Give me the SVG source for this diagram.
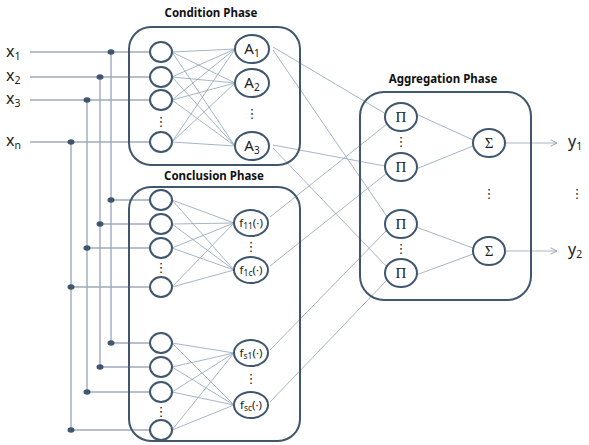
<svg xmlns="http://www.w3.org/2000/svg" width="589" height="445" viewBox="0 0 589 445">
<defs>
<style>
.box{fill:none;stroke:#3f566e;stroke-width:2}
.nd{fill:#fff;stroke:#3f566e;stroke-width:2}
.wire{stroke:#9eabb9;stroke-width:1.4;fill:none}
.mesh{stroke:#8fa2b7;stroke-width:0.8;fill:none}
.dot{fill:#3f566e}
.title{font-family:"Noto Sans",sans-serif;font-weight:bold;font-size:11.5px;fill:#111;text-anchor:middle}
.lbl{font-family:"Noto Sans",sans-serif;font-size:16px;fill:#222}
.nl{font-family:"Noto Sans",sans-serif;font-size:15px;fill:#222;text-anchor:middle}
.fl{font-family:"Noto Sans",sans-serif;font-size:11.5px;fill:#222;text-anchor:middle}
.gr{font-family:"Liberation Serif",serif;font-size:15px;fill:#222;text-anchor:middle}
.vd{font-family:"DejaVu Sans",sans-serif;font-size:13px;fill:#222;text-anchor:middle}
</style>
<marker id="ar" viewBox="0 0 10 10" refX="9" refY="5" markerWidth="8" markerHeight="8" orient="auto" markerUnits="userSpaceOnUse">
<path d="M1,1 L9,5 L1,9" fill="none" stroke="#8fa2b7" stroke-width="1.2"/>
</marker>
</defs>

<g id="connectors">
<path class="wire" d="M30,52 H150 M30,77 H150 M30,100 H150 M30,142 H150"/>
<path class="wire" d="M111,52 V343 M100,77 V367 M87,100 V392 M71,142 V430"/>
<path class="wire" d="M111,200 H150 M100,224 H150 M87,248 H150 M71,287 H150 M111,343 H150 M100,367 H150 M87,392 H150 M71,430 H150"/>
<path class="mesh" d="M172,52 L235,49 M172,52 L235,83 M172,52 L235,146 M172,77 L235,49 M172,77 L235,83 M172,77 L235,146 M172,100 L235,49 M172,100 L235,83 M172,100 L235,146 M172,142 L235,49 M172,142 L235,83 M172,142 L235,146"/>
<path class="mesh" d="M172,200 L234,223 M172,200 L234,270 M172,224 L234,223 M172,224 L234,270 M172,248 L234,223 M172,248 L234,270 M172,287 L234,223 M172,287 L234,270"/>
<path class="mesh" d="M172,343 L234,353 M172,343 L234,405 M172,367 L234,353 M172,367 L234,405 M172,392 L234,353 M172,392 L234,405 M172,430 L234,353 M172,430 L234,405"/>
<path class="mesh" d="M273,47 L386,114 M273,50 L388,218 M273,145 L385,166 M273,148 L388,268"/>
<path class="mesh" d="M270,217 L387,124 M270,266 L387,173 M270,350 L387,230 M270,402 L387,280"/>
<path class="mesh" d="M416,114 L473,140 M416,169 L473,146 M416,227 L473,248 M416,275 L473,254"/>
<path class="mesh" d="M505,143 H557" marker-end="url(#ar)"/>
<path class="mesh" d="M505,251 H557" marker-end="url(#ar)"/>
<g class="dot">
<ellipse cx="111" cy="52" rx="3.5" ry="2.8"/><ellipse cx="100" cy="77" rx="3.5" ry="2.8"/><ellipse cx="87" cy="100" rx="3.5" ry="2.8"/><ellipse cx="71" cy="142" rx="3.5" ry="2.8"/>
<ellipse cx="111" cy="200" rx="3.5" ry="2.8"/><ellipse cx="100" cy="224" rx="3.5" ry="2.8"/><ellipse cx="87" cy="248" rx="3.5" ry="2.8"/><ellipse cx="71" cy="287" rx="3.5" ry="2.8"/>
<ellipse cx="111" cy="343" rx="3.5" ry="2.8"/><ellipse cx="100" cy="367" rx="3.5" ry="2.8"/><ellipse cx="87" cy="392" rx="3.5" ry="2.8"/><ellipse cx="71" cy="430" rx="3.5" ry="2.8"/>
</g>
</g>

<g id="inputs">
<text class="lbl" x="6" y="57">x<tspan font-size="10.5" dy="3">1</tspan></text>
<text class="lbl" x="6" y="81">x<tspan font-size="10.5" dy="3">2</tspan></text>
<text class="lbl" x="6" y="104">x<tspan font-size="10.5" dy="3">3</tspan></text>
<text class="lbl" x="6" y="146">x<tspan font-size="10.5" dy="3">n</tspan></text>
</g>

<g id="condition-phase">
<text class="title" x="211" y="17">Condition Phase</text>
<rect class="box" x="129" y="27" width="171" height="138" rx="22"/>
<ellipse class="nd" cx="161" cy="52" rx="11" ry="10"/>
<ellipse class="nd" cx="161" cy="77" rx="11" ry="10"/>
<ellipse class="nd" cx="161" cy="100" rx="11" ry="10"/>
<ellipse class="nd" cx="161" cy="142" rx="11" ry="10"/>
<text class="vd" x="161" y="126">⋮</text>
<g id="A1"><ellipse class="nd" cx="252" cy="49" rx="17" ry="14"/><text class="nl" x="252" y="54">A<tspan font-size="10" dy="3">1</tspan></text></g>
<g id="A2"><ellipse class="nd" cx="252" cy="83" rx="17" ry="14"/><text class="nl" x="252" y="88">A<tspan font-size="10" dy="3">2</tspan></text></g>
<text class="vd" x="252" y="118">⋮</text>
<g id="A3"><ellipse class="nd" cx="252" cy="146" rx="17" ry="14"/><text class="nl" x="252" y="151">A<tspan font-size="10" dy="3">3</tspan></text></g>
</g>

<g id="conclusion-phase">
<text class="title" x="214" y="180">Conclusion Phase</text>
<rect class="box" x="129" y="187" width="171" height="254" rx="22"/>
<ellipse class="nd" cx="161" cy="200" rx="11" ry="10"/>
<ellipse class="nd" cx="161" cy="224" rx="11" ry="10"/>
<ellipse class="nd" cx="161" cy="248" rx="11" ry="10"/>
<ellipse class="nd" cx="161" cy="287" rx="11" ry="10"/>
<text class="vd" x="161" y="272">⋮</text>
<ellipse class="nd" cx="161" cy="343" rx="11" ry="10"/>
<ellipse class="nd" cx="161" cy="367" rx="11" ry="10"/>
<ellipse class="nd" cx="161" cy="392" rx="11" ry="10"/>
<ellipse class="nd" cx="161" cy="430" rx="11" ry="10"/>
<text class="vd" x="161" y="416">⋮</text>
<g id="f11"><ellipse class="nd" cx="251" cy="223" rx="17" ry="13"/><text class="fl" x="251" y="227">f<tspan font-size="8.5" dy="2">11</tspan><tspan dy="-2">(·)</tspan></text></g>
<text class="vd" x="251" y="251">⋮</text>
<g id="f1c"><ellipse class="nd" cx="251" cy="270" rx="17" ry="13"/><text class="fl" x="251" y="274">f<tspan font-size="8.5" dy="2">1c</tspan><tspan dy="-2">(·)</tspan></text></g>
<g id="fs1"><ellipse class="nd" cx="251" cy="353" rx="17" ry="13"/><text class="fl" x="251" y="357">f<tspan font-size="8.5" dy="2">s1</tspan><tspan dy="-2">(·)</tspan></text></g>
<text class="vd" x="251" y="383">⋮</text>
<g id="fsc"><ellipse class="nd" cx="251" cy="405" rx="17" ry="13"/><text class="fl" x="251" y="409">f<tspan font-size="8.5" dy="2">sc</tspan><tspan dy="-2">(·)</tspan></text></g>
</g>

<g id="aggregation-phase">
<text class="title" x="443" y="83">Aggregation Phase</text>
<rect class="box" x="360" y="92" width="171" height="208" rx="24"/>
<g id="P1"><ellipse class="nd" cx="401" cy="117" rx="16" ry="14"/><text class="gr" x="401" y="122">Π</text></g>
<text class="vd" x="401" y="146">⋮</text>
<g id="P2"><ellipse class="nd" cx="401" cy="167" rx="16" ry="14"/><text class="gr" x="401" y="172">Π</text></g>
<g id="P3"><ellipse class="nd" cx="401" cy="224" rx="16" ry="14"/><text class="gr" x="401" y="229">Π</text></g>
<text class="vd" x="401" y="253">⋮</text>
<g id="P4"><ellipse class="nd" cx="401" cy="273" rx="16" ry="14"/><text class="gr" x="401" y="278">Π</text></g>
<g id="S1"><ellipse class="nd" cx="489" cy="143" rx="16" ry="14"/><text class="gr" x="489" y="148">Σ</text></g>
<text class="vd" x="489" y="198">⋮</text>
<g id="S2"><ellipse class="nd" cx="489" cy="251" rx="16" ry="14"/><text class="gr" x="489" y="256">Σ</text></g>
</g>

<g id="outputs">
<text class="lbl" x="568" y="147">y<tspan font-size="10.5" dy="3">1</tspan></text>
<text class="vd" x="577" y="198">⋮</text>
<text class="lbl" x="568" y="255">y<tspan font-size="10.5" dy="3">2</tspan></text>
</g>
</svg>
